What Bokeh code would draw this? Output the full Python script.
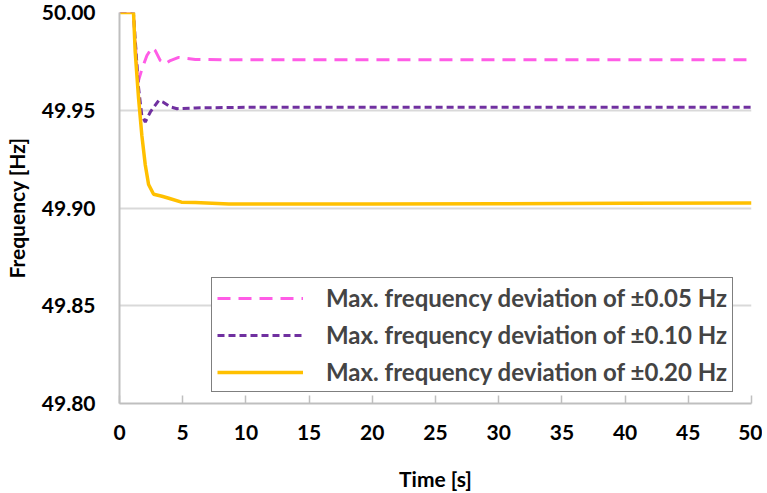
from bokeh.plotting import figure
from bokeh.models import Range1d, FixedTicker, Legend, LegendItem, NumeralTickFormatter
from bokeh.embed import file_html
from bokeh.resources import INLINE

# Time [s] and frequency [Hz]
t_005 = [0, 1.1, 1.45, 1.77, 2.17, 2.57, 2.83, 3.23, 3.62, 4.02, 4.68, 6.0, 8.65, 20, 30, 40, 50]
f_005 = [50.0, 50.0, 49.964, 49.971, 49.978, 49.982, 49.9805, 49.9754, 49.9737, 49.9754, 49.977,
         49.976, 49.9758, 49.9758, 49.9758, 49.9758, 49.9758]

t_010 = [0, 1.1, 1.5, 1.77, 2.04, 2.43, 3.1, 3.49, 4.02, 4.55, 6.0, 10, 20, 30, 40, 50]
f_010 = [50.0, 50.0, 49.962, 49.947, 49.944, 49.949, 49.955, 49.954, 49.9517, 49.9508, 49.9512,
         49.9515, 49.9515, 49.9515, 49.9515, 49.9515]

t_020 = [0, 1.11, 1.24, 1.51, 1.77, 2.04, 2.3, 2.7, 3.36, 3.9, 4.9, 6.0, 8.65, 20, 30, 40, 50]
f_020 = [50.0, 50.0, 49.980, 49.956, 49.937, 49.922, 49.912, 49.907, 49.906, 49.905, 49.903,
         49.9028, 49.902, 49.902, 49.9022, 49.9024, 49.9025]

labels = ["Max. frequency deviation of \u00b10.05 Hz",
          "Max. frequency deviation of \u00b10.10 Hz",
          "Max. frequency deviation of \u00b10.20 Hz"]

x_ticks = [0, 5, 10, 15, 20, 25, 30, 35, 40, 45, 50]
y_ticks = [49.80, 49.85, 49.90, 49.95, 50.00]

FONT = "Lato"

p = figure(width=762, height=493, output_backend="svg", toolbar_location=None,
           x_range=Range1d(0, 50), y_range=Range1d(49.8, 50.0),
           min_border_left=119, min_border_right=11, min_border_top=12, min_border_bottom=77)
p.outline_line_color = None
p.background_fill_color = "white"

p.xaxis.ticker = FixedTicker(ticks=x_ticks)
p.yaxis.ticker = FixedTicker(ticks=y_ticks)
p.yaxis.formatter = NumeralTickFormatter(format="0.00")

for ax in (p.xaxis, p.yaxis):
    ax.axis_line_color = "#BFBFBF"
    ax.axis_line_width = 2
    ax.major_tick_line_color = "#BFBFBF"
    ax.major_tick_line_width = 1.5
    ax.minor_tick_line_color = None
    ax.major_label_text_font = FONT
    ax.major_label_text_font_style = "bold"
    ax.major_label_text_font_size = "21px"
    ax.major_label_text_color = "black"
    ax.axis_label_text_font = FONT
    ax.axis_label_text_font_style = "bold"
    ax.axis_label_text_font_size = "21px"
    ax.axis_label_text_color = "black"

p.xaxis.major_tick_in = 8
p.xaxis.major_tick_out = 0
p.xaxis.major_label_standoff = 21
p.xaxis.axis_label = "Time [s]"
p.xaxis.axis_label_standoff = 23

p.yaxis.major_tick_in = 0
p.yaxis.major_tick_out = 0
p.yaxis.major_label_standoff = 24
p.yaxis.axis_label = "Frequency [Hz]"
p.yaxis.axis_label_standoff = 10

p.xgrid.grid_line_color = None
p.ygrid.grid_line_color = "#D9D9D9"
p.ygrid.grid_line_width = 2

r1 = p.line(t_005, f_005, line_color="#FF5CE6", line_width=3, line_dash="13 8")
r2 = p.line(t_010, f_010, line_color="#7030A0", line_width=3, line_dash="7 4")
r3 = p.line(t_020, f_020, line_color="#FFC000", line_width=3.5)

legend = Legend(items=[LegendItem(label=labels[0], renderers=[r1]),
                       LegendItem(label=labels[1], renderers=[r2]),
                       LegendItem(label=labels[2], renderers=[r3])],
                location=(92, 11))
legend.border_line_color = "black"
legend.border_line_width = 1.5
legend.background_fill_color = "white"
legend.background_fill_alpha = 1
legend.label_text_font = FONT
legend.label_text_font_style = "bold"
legend.label_text_font_size = "24px"
legend.glyph_width = 86
legend.glyph_height = 24
legend.label_height = 24
legend.label_standoff = 23
legend.spacing = 8
legend.padding = 5
legend.margin = 0
p.add_layout(legend, "center")

open("out.html", "w").write(file_html(p, INLINE))
